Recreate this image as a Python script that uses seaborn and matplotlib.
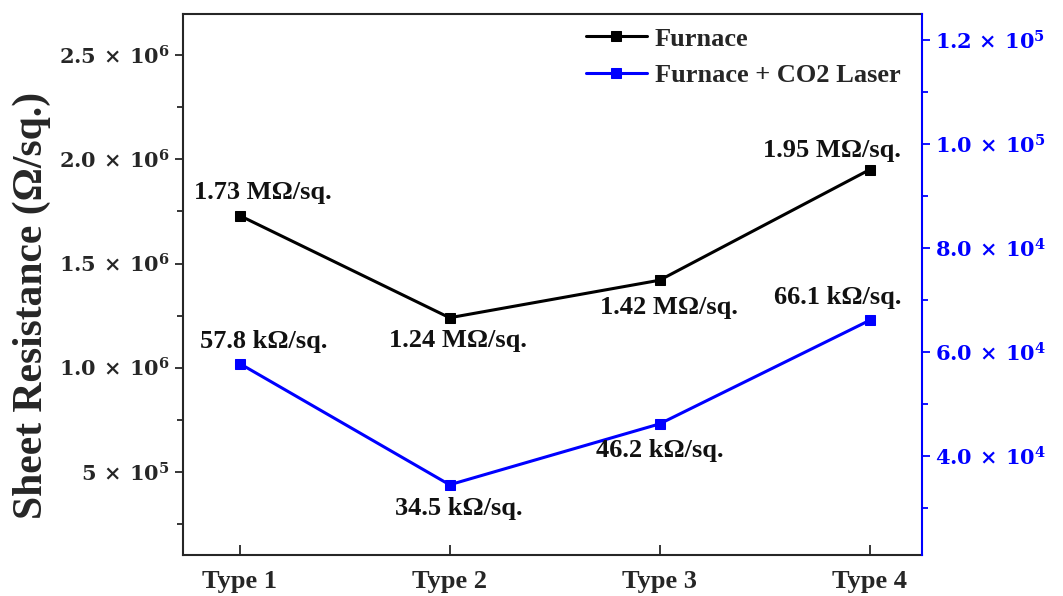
import numpy as np
import pandas as pd
import matplotlib
matplotlib.use("Agg")
import matplotlib.pyplot as plt
import seaborn as sns
from matplotlib.ticker import FixedLocator, FuncFormatter, AutoMinorLocator

types = ["Type 1", "Type 2", "Type 3", "Type 4"]
furnace = [1.73e6, 1.24e6, 1.42e6, 1.95e6]
laser = [57.8e3, 34.5e3, 46.2e3, 66.1e3]
furnace_labels = ["1.73 MΩ/sq.", "1.24 MΩ/sq.", "1.42 MΩ/sq.", "1.95 MΩ/sq."]
laser_labels = ["57.8 kΩ/sq.", "34.5 kΩ/sq.", "46.2 kΩ/sq.", "66.1 kΩ/sq."]
left_ticks = [5e5, 1.0e6, 1.5e6, 2.0e6, 2.5e6]
right_ticks = [4e4, 6e4, 8e4, 1.0e5, 1.2e5]

sns.set_style("ticks")
plt.rcParams['font.family'] = ['Liberation Serif', 'DejaVu Serif']
plt.rcParams['font.weight'] = 'bold'
plt.rcParams['mathtext.fontset'] = 'dejavuserif'

fig = plt.figure(figsize=(10.63, 5.96), dpi=100)
ax = fig.add_axes([183/1063, 1-555/596, (922-183)/1063, (555-14)/596])
ax2 = ax.twinx()

df1 = pd.DataFrame({"x": np.arange(4), "y": furnace})
df2 = pd.DataFrame({"x": np.arange(4), "y": laser})
sns.lineplot(data=df1, x="x", y="y", ax=ax, color="black", marker="s", markersize=7,
             markeredgecolor="black", linewidth=2.2, label="Furnace", legend=False)
sns.lineplot(data=df2, x="x", y="y", ax=ax2, color="#0000ff", marker="s", markersize=7,
             markeredgecolor="#0000ff", linewidth=2.2, label="Furnace + CO2 Laser", legend=False)

ax.set_xlim(-0.27, 3.25)
ax.set_ylim(1.02e5, 2.697e6)
ax2.set_ylim(2.1e4, 1.25e5)

ax.set_xticks(range(4))
ax.set_xticklabels(types, fontsize=19, fontweight='bold', family='Liberation Serif')
ax.set_xlabel("")
ax.tick_params(axis='x', direction='in', length=7, width=1.3, pad=11)

def fmt(v, pos):
    e = int(np.floor(np.log10(v)))
    m = v / 10**e
    if e == 5 and abs(m - 5) < 1e-9:
        return r"$\mathbf{5\,\times\,10^{5}}$"
    return r"$\mathbf{%.1f\,\times\,10^{%d}}$" % (m, e)

ax.yaxis.set_major_locator(FixedLocator(left_ticks))
ax.yaxis.set_major_formatter(FuncFormatter(fmt))
ax.yaxis.set_minor_locator(AutoMinorLocator(2))
ax.tick_params(axis='y', which='major', direction='out', length=6, width=1.3, labelsize=15, right=False)
ax.tick_params(axis='y', which='minor', direction='out', length=4, width=1.3, right=False)
ax.set_ylabel("Sheet Resistance (Ω/sq.)", fontsize=30, fontweight='bold')
ax.yaxis.set_label_coords(-0.178, 0.462)

ax2.yaxis.set_major_locator(FixedLocator(right_ticks))
ax2.yaxis.set_major_formatter(FuncFormatter(fmt))
ax2.yaxis.set_minor_locator(AutoMinorLocator(2))
ax2.tick_params(axis='y', which='major', direction='out', length=6, width=1.3, labelsize=15,
                colors='#0000ff')
ax2.tick_params(axis='y', which='minor', direction='out', length=4, width=1.3, colors='#0000ff')
ax2.set_ylabel("")
ax2.spines['right'].set_color('#0000ff')
ax2.spines['right'].set_linewidth(1.5)
for s in ['left', 'bottom', 'top']:
    ax.spines[s].set_linewidth(1.5)
    ax2.spines[s].set_visible(False)
ax.spines['right'].set_visible(False)

txt = dict(fontsize=19, fontweight='bold', family='Liberation Serif', ha='center', va='center',
           textcoords='offset pixels', color='#111111')
f_off = [(23, 23), (8, -23), (9, -27), (-38, 19)]
l_off = [(24, 22), (9, -24), (0, -27), (-32, 23)]
for i in range(4):
    ax.annotate(furnace_labels[i], (i, furnace[i]), xytext=f_off[i], **txt)
    ax2.annotate(laser_labels[i], (i, laser[i]), xytext=l_off[i], **txt)

h1, lab1 = ax.get_legend_handles_labels()
h2, lab2 = ax2.get_legend_handles_labels()
ax2.legend(h1 + h2, lab1 + lab2, loc='upper right', bbox_to_anchor=(0.985, 0.995), frameon=False,
           prop={'family': 'Liberation Serif', 'weight': 'bold', 'size': 19},
           handlelength=2.3, handletextpad=0.3, labelspacing=0.5, borderaxespad=0.2,
           borderpad=0.2)

fig.savefig("out.png", dpi=100)
